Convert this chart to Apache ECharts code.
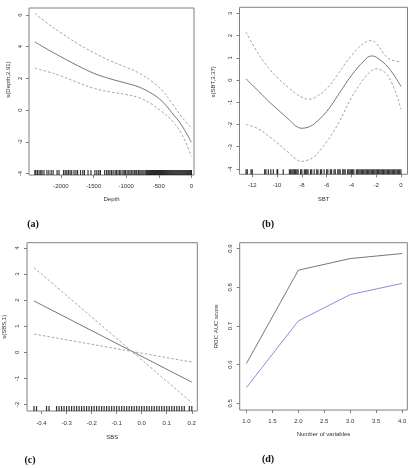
<!DOCTYPE html>
<html><head><meta charset="utf-8">
<script src="https://cdn.jsdelivr.net/npm/echarts@6/dist/echarts.min.js"></script>
<style>html,body{margin:0;padding:0;background:#fff}#c{width:416px;height:468px}</style>
</head><body><div id="c"></div>
<script>
// Panel (a): Depth
const depthX = [-2400, -2200, -2000, -1750, -1500, -1250, -1000, -800, -600, -450, -300, -150, 0];
const depthFit = [4.3, 3.82, 3.36, 2.82, 2.33, 1.98, 1.7, 1.45, 1.03, 0.56, -0.16, -0.95, -2.03];
const depthUpper = [6.1, 5.45, 4.88, 4.2, 3.63, 3.12, 2.7, 2.33, 1.8, 1.25, 0.45, -0.42, -1.13];
const depthLower = [2.64, 2.42, 2.16, 1.75, 1.38, 1.15, 0.98, 0.78, 0.36, -0.1, -0.65, -1.5, -2.91];
const depthRug = [-2400,-2385,-2360,-2335,-2310,-2290,-2260,-2215,-2185,-2150,-2120,-2060,-2030,-1960,-1935,-1910,-1885,-1860,-1835,-1800,-1770,-1745,-1700,-1665,-1640,-1585,-1540,-1480,-1450,-1420,-1395,-1330,-1300,-1275,-1250,-1225,-1200,-1170,-1150,-1125,-1100,-1080,-1050,-1030,-1010,-985,-960,-940,-915,-895,-870,-850,-835,-810,-790,-770,-745,-725,-700,-685,-670,-655,-640,-625,-610,-595,-580,-565,-550,-535,-520,-505,-490,-475,-460,-445,-430,-415,-400,-385,-370,-355,-340,-325,-310,-295,-280,-265,-250,-235,-220,-205,-190,-175,-160,-145,-130,-115,-100,-85,-70,-55,-40,-25,-10,0];
const depthXTicks = [-2000, -1500, -1000, -500, 0];
const depthYTicks = [-4, -2, 0, 2, 4, 6];

// Panel (b): SBT
const sbtX = [-12.5, -11.5, -10.5, -10, -9, -8.5, -8, -7.5, -7, -6, -5, -4, -3, -2.4, -2, -1, 0];
const sbtFit = [0.05, -0.5, -1.05, -1.3, -1.8, -2.06, -2.17, -2.12, -1.97, -1.42, -0.62, 0.2, 0.85, 1.08, 1.03, 0.55, -0.29];
const sbtUpper = [2.15, 1.17, 0.42, 0.12, -0.38, -0.6, -0.77, -0.87, -0.8, -0.4, 0.33, 1.1, 1.65, 1.77, 1.65, 0.97, 0.82];
const sbtLower = [-2.0, -2.2, -2.6, -2.82, -3.3, -3.54, -3.66, -3.6, -3.45, -2.78, -1.9, -0.8, 0.05, 0.4, 0.5, 0.15, -1.31];
const sbtRug = [-12.5,-12.4,-12.1,-12.0,-11.0,-10.9,-10.7,-10.5,-10.3,-10.0,-9.95,-9.5,-9.0,-8.9,-8.8,-8.7,-8.6,-8.5,-8.4,-8.3,-8.1,-8.0,-7.8,-7.7,-7.6,-7.5,-7.3,-7.2,-7.0,-6.8,-6.7,-6.5,-6.4,-6.2,-6.0,-5.9,-5.7,-5.6,-5.4,-5.3,-5.1,-5.0,-4.9,-4.7,-4.6,-4.5,-4.3,-4.2,-4.1,-4.0,-3.9,-3.8,-3.6,-3.5,-3.4,-3.3,-3.2,-3.1,-3.0,-2.9,-2.8,-2.7,-2.6,-2.5,-2.4,-2.3,-2.2,-2.1,-2.0,-1.9,-1.8,-1.7,-1.6,-1.5,-1.4,-1.3,-1.2,-1.1,-1.0,-0.9,-0.8,-0.7,-0.6,-0.5,-0.4,-0.3,-0.2,-0.1,0];
const sbtXTicks = [-12, -10, -8, -6, -4, -2, 0];
const sbtYTicks = [-4, -3, -2, -1, 0, 1, 2, 3];

// Panel (c): SBS
const sbsX = [-0.43, 0.2];
const sbsFit = [1.97, -1.15];
const sbsUpper = [3.25, -1.94];
const sbsLower = [0.7, -0.38];
const sbsRug = [-0.43,-0.42,-0.38,-0.37,-0.34,-0.33,-0.32,-0.31,-0.30,-0.29,-0.28,-0.27,-0.26,-0.25,-0.24,-0.23,-0.22,-0.21,-0.20,-0.19,-0.18,-0.17,-0.16,-0.15,-0.14,-0.13,-0.12,-0.11,-0.10,-0.09,-0.08,-0.07,-0.06,-0.05,-0.04,-0.03,-0.02,-0.01,0.00,0.01,0.02,0.03,0.04,0.05,0.06,0.07,0.08,0.09,0.10,0.11,0.12,0.13,0.14,0.15,0.16,0.17,0.19,0.20];
const sbsXTicks = [-0.4, -0.3, -0.2, -0.1, 0.0, 0.1, 0.2];
const sbsYTicks = [-2, -1, 0, 1, 2, 3, 4];

// Panel (d): ROC AUC
const nVars = [1, 2, 3, 4];
const aucBlack = [0.603, 0.844, 0.874, 0.887];
const aucBlue = [0.541, 0.713, 0.781, 0.810];
const nXTicks = [1.0, 1.5, 2.0, 2.5, 3.0, 3.5, 4.0];
const aucYTicks = [0.5, 0.6, 0.7, 0.8, 0.9];

const FONT = 'Liberation Sans';
const AX = '#808080';
const TXT = '#333';
const pairs = (xs, ys) => xs.map((x, i) => [x, ys[i]]);

function xAxis(gi, min, max, ticks, fmt, name, gap, margin) {
  return {
    type: 'value', gridIndex: gi, min, max,
    axisLine: { show: false, onZero: false },
    axisTick: { show: true, inside: false, length: 3, lineStyle: { color: AX }, customValues: ticks },
    axisLabel: { customValues: ticks, formatter: fmt, fontSize: 6, color: TXT, fontFamily: FONT, margin },
    splitLine: { show: false },
    name, nameLocation: 'middle', nameGap: gap,
    nameTextStyle: { fontSize: 6, color: TXT, fontFamily: FONT }
  };
}
function yAxis(gi, min, max, ticks, fmt, name, gap, margin, shift) {
  return {
    type: 'value', gridIndex: gi, min, max,
    axisLine: { show: false, onZero: false },
    axisTick: { show: true, inside: false, length: 3, lineStyle: { color: AX }, customValues: ticks },
    axisLabel: { customValues: ticks, formatter: fmt, fontSize: 6, color: TXT, fontFamily: FONT, rotate: 90, margin },
    splitLine: { show: false },
    name, nameLocation: 'middle', nameGap: gap,
    nameTextStyle: { fontSize: 6, color: TXT, fontFamily: FONT, padding: [0, 0, 0, shift] }
  };
}
const fmtInt = v => String(Math.round(v));
const fmt1 = v => (Math.abs(v) < 1e-9 ? 0 : v).toFixed(1);

function fitLine(xi, xs, ys, dashed, smooth) {
  return {
    type: 'line', xAxisIndex: xi, yAxisIndex: xi, data: pairs(xs, ys),
    symbol: 'none', smooth: smooth, silent: true,
    lineStyle: dashed ? { color: '#9a9a9a', width: 0.9, type: [2.5, 2] } : { color: '#666', width: 0.9 }
  };
}
function rug(xi, vals, yMin) {
  return {
    type: 'scatter', xAxisIndex: xi, yAxisIndex: xi, clip: false, silent: true,
    data: vals.map(v => [v, yMin]),
    symbol: 'rect', symbolSize: [1.2, 5], symbolOffset: [0, -2.5],
    itemStyle: { color: '#000' }
  };
}

const A_YMIN = -4.09, B_YMIN = -4.24, C_YMIN = -2.26;

const option = {
  animation: false,
  backgroundColor: '#fff',
  grid: [
    { left: 29, top: 8, width: 165, height: 167, show: true, borderColor: AX, borderWidth: 1 },
    { left: 239.5, top: 7.3, width: 168, height: 167, show: true, borderColor: AX, borderWidth: 1 },
    { left: 26.7, top: 242.7, width: 170.6, height: 168.3, show: true, borderColor: AX, borderWidth: 1 },
    { left: 239.7, top: 242.7, width: 167.6, height: 167.3, show: true, borderColor: AX, borderWidth: 1 }
  ],
  xAxis: [
    xAxis(0, -2490, 40, depthXTicks, fmtInt, 'Depth', 21, 8),
    xAxis(1, -13.03, 0.53, sbtXTicks, fmtInt, 'SBT', 22, 8),
    xAxis(2, -0.458, 0.222, sbsXTicks, fmt1, 'SBS', 23, 9),
    xAxis(3, 0.87, 4.10, nXTicks, fmt1, 'Number of variables', 21, 8)
  ],
  yAxis: [
    yAxis(0, A_YMIN, 6.44, depthYTicks, fmtInt, 's(Depth,2.91)', 18, 5.5, 24),
    yAxis(1, B_YMIN, 3.27, sbtYTicks, fmtInt, 's(SBT,3.37)', 23, 6.5, 18),
    yAxis(2, C_YMIN, 4.21, sbsYTicks, fmtInt, 's(SBS,1)', 20, 6.5, 0),
    yAxis(3, 0.483, 0.915, aucYTicks, fmt1, 'ROC AUC score', 20.5, 6.5, 0)
  ],
  series: [
    fitLine(0, depthX, depthFit, false, 0.4),
    fitLine(0, depthX, depthUpper, true, 0.4),
    fitLine(0, depthX, depthLower, true, 0.4),
    rug(0, depthRug, A_YMIN),
    fitLine(1, sbtX, sbtFit, false, 0.4),
    fitLine(1, sbtX, sbtUpper, true, 0.4),
    fitLine(1, sbtX, sbtLower, true, 0.4),
    rug(1, sbtRug, B_YMIN),
    fitLine(2, sbsX, sbsFit, false, false),
    fitLine(2, sbsX, sbsUpper, true, false),
    fitLine(2, sbsX, sbsLower, true, false),
    rug(2, sbsRug, C_YMIN),
    { type: 'line', xAxisIndex: 3, yAxisIndex: 3, data: pairs(nVars, aucBlack), symbol: 'none', silent: true,
      lineStyle: { color: '#666', width: 0.9 } },
    { type: 'line', xAxisIndex: 3, yAxisIndex: 3, data: pairs(nVars, aucBlue), symbol: 'none', silent: true,
      lineStyle: { color: '#7f7fdc', width: 0.9 } }
  ],
  graphic: [
    { type: 'text', x: 33, y: 224, style: { text: '(a)', font: 'bold 10px "Liberation Serif"', fill: '#111', textAlign: 'center', textVerticalAlign: 'middle', verticalAlign: 'middle' } },
    { type: 'text', x: 268, y: 224, style: { text: '(b)', font: 'bold 10px "Liberation Serif"', fill: '#111', textAlign: 'center', textVerticalAlign: 'middle', verticalAlign: 'middle' } },
    { type: 'text', x: 30, y: 460, style: { text: '(c)', font: 'bold 10px "Liberation Serif"', fill: '#111', textAlign: 'center', textVerticalAlign: 'middle', verticalAlign: 'middle' } },
    { type: 'text', x: 268, y: 459, style: { text: '(d)', font: 'bold 10px "Liberation Serif"', fill: '#111', textAlign: 'center', textVerticalAlign: 'middle', verticalAlign: 'middle' } }
  ]
};
const chart = echarts.init(document.getElementById('c'), null, { renderer: 'canvas' });
chart.setOption(option);
</script>
</body></html>
